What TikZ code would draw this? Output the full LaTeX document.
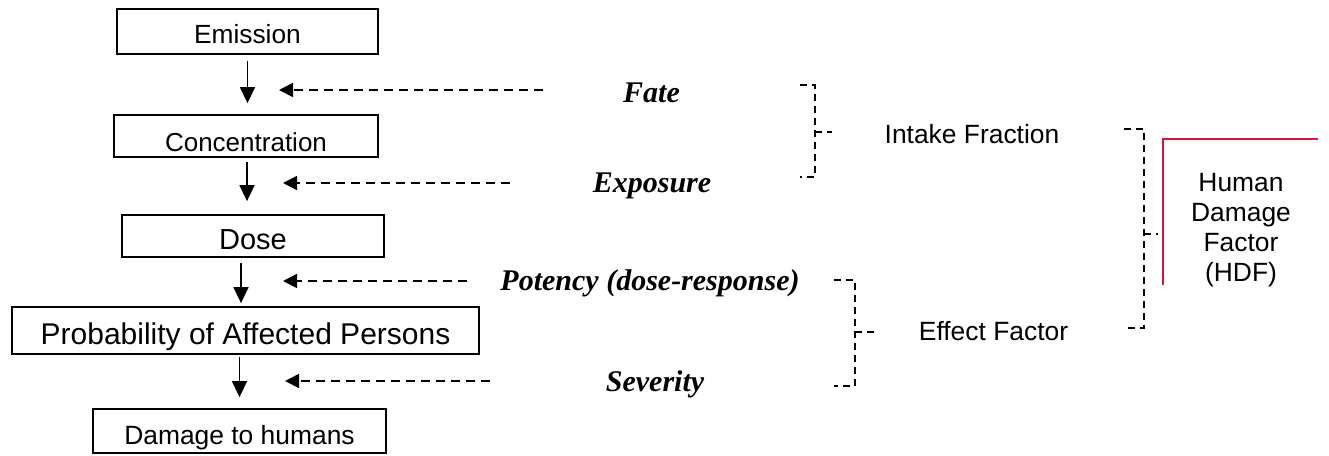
\documentclass[tikz,border=0pt]{standalone}
\usepackage{fontspec}
\setmainfont{Liberation Sans}
\newfontfamily\serf{Liberation Serif}
\usetikzlibrary{arrows.meta}
\definecolor{hdfred}{RGB}{220,20,60}
\begin{document}
\begin{tikzpicture}[x=1pt,y=-1pt,
  bx/.style={draw,line width=1.8pt,inner sep=0pt,text depth=0pt},
  arr/.style={line width=1.6pt,-{Triangle[length=16pt,width=15pt]}},
  darr/.style={line width=1.7pt,dash pattern=on 9pt off 6pt,-{Triangle[length=14pt,width=14pt]}},
  brk/.style={line width=1.7pt,dash pattern=on 7pt off 5pt},
  lab/.style={font=\serf\bfseries\itshape\fontsize{30}{34}\selectfont,anchor=base,inner sep=0pt},
  slab/.style={font=\fontsize{26.4}{30}\selectfont,anchor=base,inner sep=0pt}]
\useasboundingbox (0,0) rectangle (1329,455);
% boxes
\node[bx,minimum width=261pt,minimum height=45pt,font=\fontsize{26.3}{30}\selectfont,text height=23.8pt] (emission) at (247.5,31.5) {Emission};
\node[bx,minimum width=264pt,minimum height=42pt,font=\fontsize{26}{30}\selectfont,text height=30.6pt] (conc) at (246,136) {Concentration};
\node[bx,minimum width=262pt,minimum height=42pt,font=\fontsize{29}{33}\selectfont,text height=27.8pt] (dose) at (253,236) {Dose};
\node[bx,minimum width=467pt,minimum height=47pt,font=\fontsize{30}{34}\selectfont,text height=28.1pt] (prob) at (245.5,330.5) {Probability of Affected Persons};
\node[bx,minimum width=293pt,minimum height=44pt,font=\fontsize{26.4}{30}\selectfont,text height=26.9pt] (damage) at (239.5,431) {Damage to humans};
% solid arrows
\draw[arr,shorten <=6pt,shorten >=11pt] (emission.south) -- (emission.south |- conc.north);
\draw[arr,shorten <=4pt,shorten >=13pt] ([xshift=1pt]conc.south) -- ([xshift=1pt]conc.south |- dose.north);
\draw[arr,shorten <=5pt,shorten >=3pt] ([xshift=-12pt]dose.south) -- ([xshift=-12pt]dose.south |- prob.north);
\draw[arr,shorten <=2pt,shorten >=11pt] (prob.south -| damage.north) -- (damage.north);
% labels
\node[lab] (fate) at (651.5,102) {Fate};
\node[lab] (expo) at (652,192) {Exposure};
\node[lab] (pot) at (650,290) {Potency (dose-response)};
\node[lab] (sev) at (655,391) {Severity};
\node[slab] (if) at (972,143.5) {Intake Fraction};
\node[slab] (ef) at (993.5,340.5) {Effect Factor};
\node[font=\fontsize{26.4}{30}\selectfont,align=center,inner sep=0pt] (hdf) at (1241,230.6) {Human\\Damage\\Factor\\(HDF)};
% dashed arrows
\coordinate (fS) at (543,90);  \coordinate (fE) at (279,90);
\coordinate (eS) at (510,183); \coordinate (eE) at (283,183);
\coordinate (pS) at (467,281); \coordinate (pE) at (283,281);
\coordinate (sS) at (490,381); \coordinate (sE) at (285,381);
\draw[darr] (fS) -- (fE);
\draw[darr] (eS) -- (eE);
\draw[darr] (pS) -- (pE);
\draw[darr] (sS) -- (sE);
% brackets
\coordinate (b1) at (832,132);
\coordinate (b2) at (1158,234);
\coordinate (b3) at (878,332);
\draw[brk] (800,85) -- (815,85) -- (815,177) -- (800,177);
\draw[brk] (815,132) -- (b1);
\draw[brk] (1124,129) -- (1144,129) -- (1144,328) -- (1127,328);
\draw[brk] (1144,234) -- (b2);
\draw[brk] (834,280) -- (855,280) -- (855,386) -- (834,386);
\draw[brk] (855,332) -- (b3);
% red line
\draw[draw=hdfred,line width=1.3pt] (1163,285) -- (1163,139) -- (1318,139);
\end{tikzpicture}
\end{document}
